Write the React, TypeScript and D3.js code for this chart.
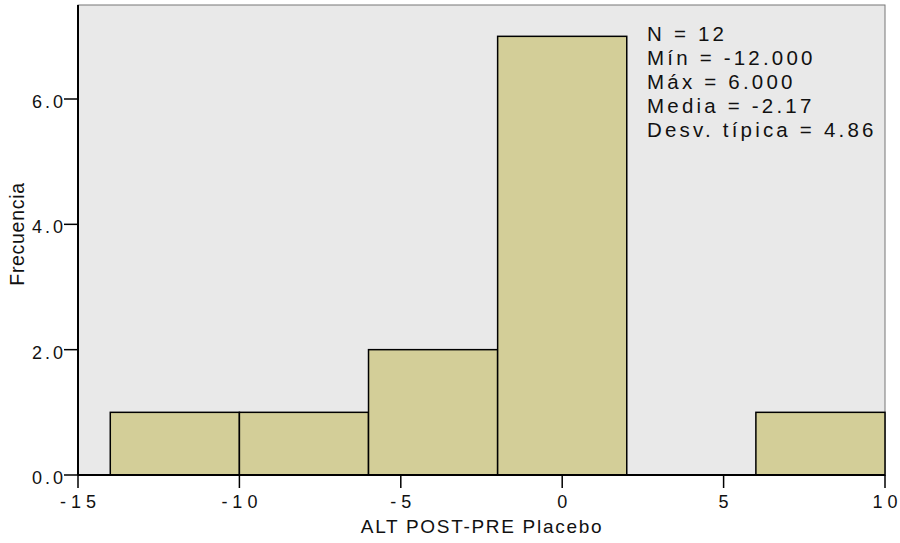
import React from "react";
import * as d3 from "d3";

const binStarts = [-14, -10, -6, -2, 2, 6];
const binEnds = [-10, -6, -2, 2, 6, 10];
const counts = [1, 1, 2, 7, 0, 1];
const xTicks = [-15, -10, -5, 0, 5, 10];
const yTicks = [0, 2, 4, 6];
const statsLines = ["N = 12", "Mín = -12.000", "Máx = 6.000", "Media = -2.17", "Desv. típica = 4.86"];

function Spaced({ s, ls }: { s: string; ls: number }) {
  return (
    <>
      <tspan letterSpacing={ls}>{s.slice(0, -1)}</tspan>
      <tspan>{s.slice(-1)}</tspan>
    </>
  );
}

export default function App() {
  const W = 900, H = 543;
  const left = 78, right = 885, top = 5, bottom = 475;
  const x = d3.scaleLinear().domain([-15, 10]).range([left, right]);
  const y = d3.scaleLinear().domain([0, 7.5]).range([bottom, top]);
  const font = "'Liberation Sans', Arial, sans-serif";
  return (
    <svg width={W} height={H} style={{ position: "absolute", left: 0, top: 0 }}>
      <rect x={0} y={0} width={W} height={H} fill="#fff" />
      <rect x={left} y={top} width={right - left} height={bottom - top} fill="#e9e9e9" stroke="#777" strokeWidth={1} />
      {counts.map((c, i) =>
        c > 0 ? (
          <rect key={i} x={x(binStarts[i])} y={y(c)} width={x(binEnds[i]) - x(binStarts[i])} height={y(0) - y(c)}
            fill="#d3ce98" stroke="#000" strokeWidth={1.5} />
        ) : null
      )}
      <line x1={left} x2={left} y1={top} y2={bottom} stroke="#000" strokeWidth={2} />
      <line x1={left} x2={right} y1={bottom} y2={bottom} stroke="#000" strokeWidth={2} />
      {yTicks.map((t) => (
        <g key={t}>
          <line x1={left - 14} x2={left} y1={y(t)} y2={y(t)} stroke="#000" strokeWidth={1.5} />
          <text x={left - 15} y={y(t) + 9} textAnchor="end" fontFamily={font} fontSize={18} fill="#111">
            <Spaced s={d3.format(".1f")(t)} ls={3} />
          </text>
        </g>
      ))}
      {xTicks.map((t) => (
        <g key={t}>
          <line x1={x(t)} x2={x(t)} y1={bottom} y2={bottom + 13} stroke="#000" strokeWidth={1.5} />
          <text x={x(t)} y={508} textAnchor="middle" fontFamily={font} fontSize={18} fill="#111">
            <Spaced s={String(t)} ls={5} />
          </text>
        </g>
      ))}
      <text x={482} y={533} textAnchor="middle" fontFamily={font} fontSize={19} letterSpacing={1.7} fill="#111">
        ALT POST-PRE Placebo
      </text>
      <text transform={`translate(24,234) rotate(-90)`} textAnchor="middle" fontFamily={font} fontSize={19.5} letterSpacing={0.7} fill="#111">
        Frecuencia
      </text>
      {statsLines.map((s, i) => (
        <text key={i} x={647} y={41 + i * 24} fontFamily={font} fontSize={20.5} letterSpacing={3.2} fill="#111">
          {s}
        </text>
      ))}
    </svg>
  );
}
